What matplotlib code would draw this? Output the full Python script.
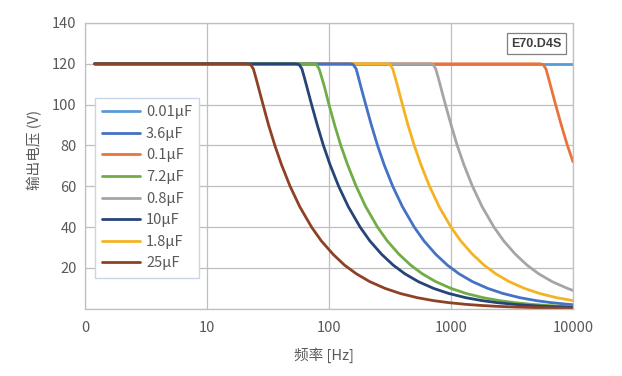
import matplotlib
matplotlib.use("Agg")
import matplotlib.pyplot as plt

plt.rcParams["font.family"] = ["Noto Sans CJK SC", "DejaVu Sans"]

# values (frequency in Hz, output voltage in V)
f_001 = [1.2, 10000]
v_001 = [120, 120]

f_01 = [1.2, 5400, 5700, 6000, 6300, 6600, 7200, 8000, 9000, 10000]
v_01 = [120, 120, 119.6, 117.5, 113, 108.5, 100, 90.2, 80, 72]

f_08 = [1.2, 675, 713, 750, 788, 825, 900, 1000, 1125, 1275, 1500, 1800,
        2250, 2700, 3375, 4200, 5250, 6750, 9000, 10000]
v_08 = [120, 120, 119.6, 117.5, 113, 108.5, 100, 90.2, 80, 70.6, 60, 50,
        40, 33.3, 26.7, 21.4, 17.1, 13.3, 10, 9.0]

f_18 = [1.2, 300, 317, 333, 350, 367, 400, 443, 500, 567, 667, 800, 1000,
        1200, 1500, 1867, 2333, 3000, 4000, 5333, 7333, 10000]
v_18 = [120, 120, 119.6, 117.5, 113, 108.5, 100, 90.2, 80, 70.6, 60, 50, 40,
        33.3, 26.7, 21.4, 17.1, 13.3, 10, 7.5, 5.45, 4.0]

f_36 = [1.2, 150, 158, 167, 175, 183, 200, 222, 250, 283, 333, 400, 500,
        600, 750, 933, 1167, 1500, 2000, 2667, 3667, 5000, 6667, 9167, 10000]
v_36 = [120, 120, 119.6, 117.5, 113, 108.5, 100, 90.2, 80, 70.6, 60, 50, 40,
        33.3, 26.7, 21.4, 17.1, 13.3, 10, 7.5, 5.45, 4, 3, 2.18, 2.0]

f_72 = [1.2, 75, 79, 83, 87.5, 92, 100, 111, 125, 142, 167, 200, 250, 300,
        375, 467, 583, 750, 1000, 1333, 1833, 2500, 3333, 4583, 6250, 8333,
        10000]
v_72 = [120, 120, 119.6, 117.5, 113, 108.5, 100, 90.2, 80, 70.6, 60, 50, 40,
        33.3, 26.7, 21.4, 17.1, 13.3, 10, 7.5, 5.45, 4, 3, 2.18, 1.6, 1.2,
        1.0]

f_10 = [1.2, 54, 57, 60, 63, 66, 72, 80, 90, 102, 120, 144, 180, 216, 270,
        336, 420, 540, 720, 960, 1320, 1800, 2400, 3300, 4500, 6000, 8400,
        10000]
v_10 = [120, 120, 119.6, 117.5, 113, 108.5, 100, 90.2, 80, 70.6, 60, 50, 40,
        33.3, 26.7, 21.4, 17.1, 13.3, 10, 7.5, 5.45, 4, 3, 2.18, 1.6, 1.2,
        0.86, 0.72]

f_25 = [1.2, 21.6, 22.8, 24, 25.2, 26.4, 28.8, 31.9, 36, 40.8, 48, 57.6, 72,
        86.4, 108, 134, 168, 216, 288, 384, 528, 720, 960, 1320, 1800, 2400,
        3360, 4800, 7200, 10000]
v_25 = [120, 120, 119.6, 117.5, 113, 108.5, 100, 90.2, 80, 70.6, 60, 50, 40,
        33.3, 26.7, 21.4, 17.1, 13.3, 10, 7.5, 5.45, 4, 3, 2.18, 1.6, 1.2,
        0.86, 0.6, 0.4, 0.29]

legend_order = ["0.01μF", "3.6μF", "0.1μF", "7.2μF", "0.8μF", "10μF", "1.8μF", "25μF"]

# drawn smallest capacitance first so the big ones sit on top
series = [
    ("0.01μF", f_001, v_001, "#5B9BD5"),
    ("0.1μF", f_01, v_01, "#E8743B"),
    ("0.8μF", f_08, v_08, "#A5A5A5"),
    ("1.8μF", f_18, v_18, "#F5B324"),
    ("3.6μF", f_36, v_36, "#4472C4"),
    ("7.2μF", f_72, v_72, "#70AD47"),
    ("10μF", f_10, v_10, "#264478"),
    ("25μF", f_25, v_25, "#8E4124"),
]

txt = "#595959"
grid_c = "#BFBFBF"

fig = plt.figure(figsize=(6.22, 3.76), dpi=100)
ax = fig.add_axes([85 / 622, 1 - 308.8 / 376, 488 / 622, 285.8 / 376])

handles = {}
for name, f, v, c in series:
    (ln,) = ax.plot(f, v, color=c, lw=2.0, solid_capstyle="round", label=name)
    handles[name] = ln

ax.set_xscale("log")
ax.set_xlim(1, 10000)
ax.set_ylim(0, 140)
ax.set_xticks([1, 10, 100, 1000, 10000])
ax.set_xticklabels(["0", "10", "100", "1000", "10000"])
ax.set_yticks([0, 20, 40, 60, 80, 100, 120, 140])
ax.set_yticklabels(["", "20", "40", "60", "80", "100", "120", "140"])
ax.minorticks_off()
ax.grid(True, color=grid_c, lw=0.9)
ax.set_axisbelow(True)
for s in ax.spines.values():
    s.set_color(grid_c)
    s.set_linewidth(0.9)
ax.tick_params(axis="both", length=0, labelcolor=txt, labelsize=10.5)
ax.tick_params(axis="x", pad=9)
ax.tick_params(axis="y", pad=6)

ax.set_xlabel("频率 [Hz]", color=txt, fontsize=10.5)
ax.set_ylabel("输出电压 (V)", color=txt, fontsize=10.5)
ax.xaxis.set_label_coords((323.5 - 85) / 488, -(355 - 308.8) / 285.8)
ax.yaxis.set_label_coords(-(85 - 35) / 488, (308.8 - 150) / 285.8)
ax.xaxis.label.set_va("center")
ax.yaxis.label.set_va("center")

leg = fig.legend([handles[n] for n in legend_order], legend_order,
                 loc="upper left", bbox_to_anchor=(95 / 622, 1 - 98 / 376),
                 borderaxespad=0, fontsize=10.5, handlelength=2.6,
                 labelspacing=0.52, borderpad=0.5, handletextpad=0.4,
                 fancybox=False, framealpha=1)
leg.get_frame().set_edgecolor("#C9D5EA")
leg.get_frame().set_linewidth(1.0)
for t in leg.get_texts():
    t.set_color(txt)

ax.text(0.925, 0.928, "E70.D4S", transform=ax.transAxes, ha="center", va="center",
        fontsize=9, fontweight="bold", color="#404040", family="Liberation Sans",
        bbox=dict(boxstyle="square,pad=0.35", fc="white", ec="#7F7F7F", lw=0.9))

fig.savefig("out.png", dpi=100)
